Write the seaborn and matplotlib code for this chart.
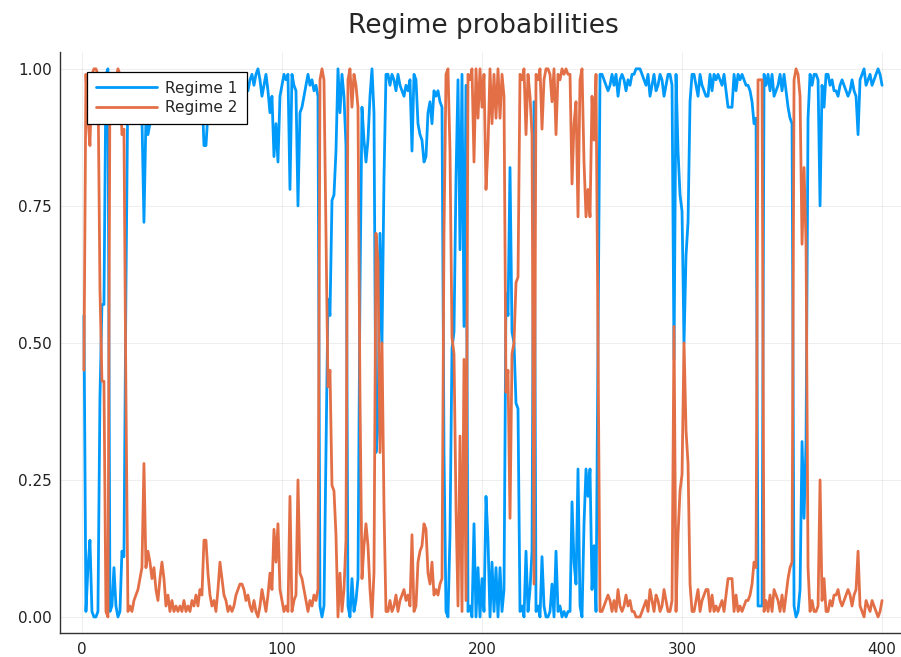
import numpy as np
import pandas as pd
import seaborn as sns
import matplotlib.pyplot as plt

# smoothed probability of regime 1 (regime 2 = 1 - regime 1)
regime1 = [
    0.55, 0.01, 0.09, 0.14, 0.01, 0.00, 0.00, 0.01, 0.40, 0.57,
    0.57, 0.99, 1.00, 0.01, 0.02, 0.09, 0.02, 0.00, 0.01, 0.12,
    0.11, 0.60, 0.99, 0.98, 0.99, 0.97, 0.96, 0.95, 0.93, 0.91,
    0.72, 0.91, 0.88, 0.90, 0.93, 0.91, 0.95, 0.97, 0.93, 0.90,
    0.93, 0.98, 0.96, 0.99, 0.97, 0.99, 0.98, 0.99, 0.98, 0.99,
    0.97, 0.99, 0.98, 0.99, 0.97, 0.98, 0.96, 0.98, 0.95, 0.96,
    0.86, 0.86, 0.92, 0.96, 0.98, 0.97, 0.99, 0.95, 0.90, 0.93,
    0.96, 0.97, 0.99, 0.98, 0.99, 0.98, 0.96, 0.95, 0.94, 0.94,
    0.95, 0.97, 0.96, 0.98, 0.99, 0.97, 0.99, 1.00, 0.98, 0.95,
    0.97, 0.99, 0.96, 0.92, 0.95, 0.84, 0.90, 0.83, 0.95, 0.97,
    0.99, 0.98, 0.99, 0.78, 0.99, 0.97, 0.96, 0.75, 0.92, 0.93,
    0.95, 0.97, 0.99, 0.97, 0.98, 0.96, 0.97, 0.95, 0.02, 0.00,
    0.02, 0.30, 0.58, 0.55, 0.76, 0.77, 0.85, 1.00, 0.92, 0.99,
    0.95, 0.86, 0.02, 0.00, 0.07, 0.01, 0.03, 0.07, 0.60, 0.93,
    0.87, 0.83, 0.87, 0.95, 1.00, 0.92, 0.30, 0.35, 0.70, 0.50,
    0.80, 0.99, 0.99, 0.97, 0.99, 0.98, 0.96, 0.99, 0.97, 0.96,
    0.95, 0.97, 0.96, 0.98, 0.85, 0.99, 0.98, 0.90, 0.88, 0.87,
    0.83, 0.84, 0.92, 0.94, 0.90, 0.96, 0.95, 0.96, 0.94, 0.93,
    0.30, 0.01, 0.00, 0.15, 0.49, 0.52, 0.80, 0.98, 0.67, 0.99,
    0.53, 0.97, 0.01, 0.02, 0.00, 0.17, 0.00, 0.09, 0.00, 0.07,
    0.01, 0.22, 0.14, 0.00, 0.10, 0.01, 0.09, 0.00, 0.09, 0.01,
    0.05, 0.59, 0.55, 0.82, 0.52, 0.50, 0.39, 0.38, 0.01, 0.02,
    0.00, 0.12, 0.01, 0.05, 0.12, 0.94, 0.01, 0.02, 0.00, 0.11,
    0.02, 0.00, 0.00, 0.01, 0.06, 0.00, 0.12, 0.01, 0.02, 0.00,
    0.01, 0.00, 0.01, 0.01, 0.21, 0.10, 0.06, 0.27, 0.02, 0.00,
    0.17, 0.27, 0.22, 0.27, 0.05, 0.13, 0.01, 0.50, 0.99, 0.99,
    0.98, 0.97, 0.96, 0.97, 0.99, 0.97, 0.99, 0.95, 0.98, 0.99,
    0.98, 0.96, 0.98, 0.97, 0.99, 0.99, 1.00, 1.00, 1.00, 0.99,
    0.98, 0.97, 0.99, 0.95, 0.97, 0.99, 0.96, 0.97, 0.99, 0.98,
    0.95, 0.97, 0.99, 0.99, 0.97, 0.47, 0.99, 0.85, 0.77, 0.74,
    0.50, 0.66, 0.72, 0.94, 0.99, 0.99, 0.97, 0.95, 0.99, 0.97,
    0.96, 0.95, 0.95, 0.99, 0.96, 0.99, 0.98, 0.99, 0.98, 0.97,
    0.99, 0.96, 0.93, 0.93, 0.93, 0.99, 0.96, 0.99, 0.98, 0.99,
    0.98, 0.97, 0.97, 0.96, 0.94, 0.90, 0.91, 0.02, 0.02, 0.02,
    0.99, 0.97, 0.99, 0.96, 0.99, 0.95, 0.96, 0.97, 0.99, 0.96,
    0.99, 0.96, 0.93, 0.91, 0.90, 0.02, 0.00, 0.01, 0.05, 0.32,
    0.18, 0.32, 0.91, 0.99, 0.97, 0.99, 0.99, 0.98, 0.75, 0.97,
    0.93, 0.99, 0.99, 0.97, 0.98, 0.96, 0.96, 0.95, 0.97, 0.98,
    0.97, 0.96, 0.95, 0.96, 0.98, 0.96, 0.95, 0.88, 0.98, 0.99,
    1.00, 0.97, 0.98, 0.99, 0.97, 0.98, 0.99, 1.00, 0.99, 0.97,
]
regime2 = [round(1 - p, 2) for p in regime1]
time = list(range(1, len(regime1) + 1))
series_names = ['Regime 1', 'Regime 2']
colors = ['#009AFA', '#E36F47']
y_ticks = [0.0, 0.25, 0.5, 0.75, 1.0]
x_ticks = [0, 100, 200, 300, 400]

df = pd.DataFrame({
    't': time * 2,
    'prob': regime1 + regime2,
    'series': [series_names[0]] * len(time) + [series_names[1]] * len(time),
})

sns.set_style('white')
plt.rcParams['font.family'] = ['DejaVu Sans']

fig = plt.figure(figsize=(9.01, 6.57), dpi=100)
ax = fig.add_axes([60 / 901, 23.6 / 657, 846 / 901, 581 / 657])

sns.lineplot(
    data=df, x='t', y='prob', hue='series',
    palette=dict(zip(series_names, colors)),
    linewidth=2.0, ax=ax, legend=True,
)

ax.set_xlim(1 - 0.03 * 399, 400 + 0.03 * 399)
ax.set_ylim(-0.03, 1.03)
ax.set_xticks(x_ticks)
ax.set_yticks(y_ticks)
ax.set_yticklabels([f'{v:.2f}' for v in y_ticks])
ax.set_xlabel('')
ax.set_ylabel('')
ax.tick_params(direction='in', length=4, width=0.8, labelsize=11, colors='#222222', pad=6)
ax.grid(True, color='black', alpha=0.08, linewidth=0.6)

for side in ['top', 'right']:
    ax.spines[side].set_visible(False)
for side in ['left', 'bottom']:
    ax.spines[side].set_color('#333333')
    ax.spines[side].set_linewidth(1.0)

ax.set_title('Regime probabilities', fontsize=19, pad=14)

leg = ax.legend(
    loc='upper left', bbox_to_anchor=(0.032, 0.967), borderaxespad=0,
    fontsize=11, frameon=True, fancybox=False, framealpha=1,
    handlelength=4.0, borderpad=0.6, labelspacing=0.3, handletextpad=0.5,
)
leg.get_frame().set_edgecolor('black')
leg.get_frame().set_linewidth(0.9)
leg.set_title(None)

fig.savefig('out.png', dpi=100)
